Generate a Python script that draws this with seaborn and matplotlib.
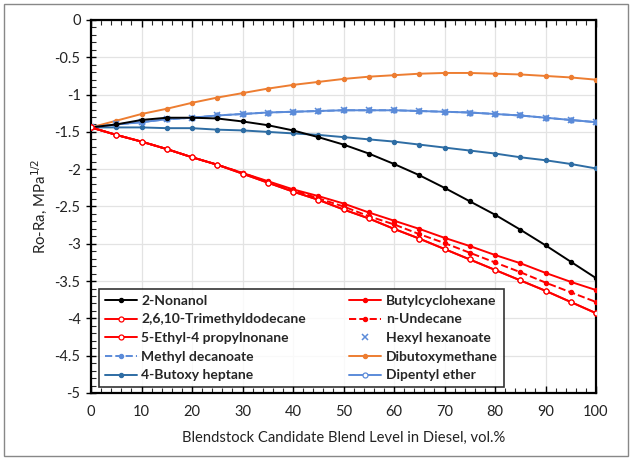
import numpy as np
import pandas as pd
import matplotlib
matplotlib.use("Agg")
import matplotlib.pyplot as plt
import seaborn as sns
from matplotlib.ticker import MultipleLocator
from matplotlib.patches import Rectangle
from matplotlib.lines import Line2D

sns.set_theme(style="white")
plt.rcParams['font.family'] = ['Lato', 'DejaVu Sans']

blend = [0, 5, 10, 15, 20, 25, 30, 35, 40, 45, 50, 55, 60, 65, 70, 75, 80, 85, 90, 95, 100]

nonanol = [-1.44, -1.40, -1.34, -1.31, -1.31, -1.32, -1.36, -1.41, -1.48, -1.57, -1.67,
           -1.79, -1.93, -2.08, -2.25, -2.43, -2.61, -2.81, -3.02, -3.24, -3.46]
butylcyclohexane = [-1.44, -1.54, -1.63, -1.73, -1.84, -1.94, -2.05, -2.16, -2.27, -2.36, -2.46,
                    -2.58, -2.69, -2.80, -2.92, -3.03, -3.15, -3.26, -3.39, -3.51, -3.62]
trimethyldodecane = [-1.44, -1.54, -1.63, -1.73, -1.84, -1.94, -2.06, -2.18, -2.30, -2.41, -2.54,
                     -2.66, -2.80, -2.93, -3.07, -3.21, -3.35, -3.49, -3.63, -3.78, -3.93]
undecane = [-1.44, -1.54, -1.63, -1.73, -1.84, -1.94, -2.05, -2.17, -2.28, -2.39, -2.50,
            -2.63, -2.74, -2.87, -2.99, -3.12, -3.25, -3.38, -3.52, -3.65, -3.78]
ethylpropylnonane = [-1.44, -1.54, -1.63, -1.73, -1.84, -1.94, -2.06, -2.18, -2.30, -2.41, -2.54,
                     -2.66, -2.80, -2.93, -3.07, -3.21, -3.35, -3.49, -3.63, -3.78, -3.93]
hexyl_hexanoate = [-1.44, -1.40, -1.37, -1.33, -1.31, -1.28, -1.26, -1.24, -1.23, -1.22, -1.21,
                   -1.21, -1.21, -1.22, -1.23, -1.24, -1.26, -1.28, -1.31, -1.34, -1.37]
methyl_decanoate = [-1.44, -1.40, -1.37, -1.33, -1.31, -1.28, -1.26, -1.24, -1.23, -1.22, -1.21,
                    -1.21, -1.21, -1.22, -1.23, -1.24, -1.26, -1.28, -1.31, -1.34, -1.37]
dibutoxymethane = [-1.44, -1.35, -1.26, -1.19, -1.11, -1.04, -0.98, -0.92, -0.87, -0.83, -0.79,
                   -0.76, -0.74, -0.72, -0.71, -0.71, -0.72, -0.73, -0.75, -0.77, -0.80]
butoxy_heptane = [-1.44, -1.44, -1.44, -1.45, -1.45, -1.47, -1.48, -1.50, -1.52, -1.54, -1.57,
                  -1.60, -1.63, -1.67, -1.71, -1.75, -1.79, -1.84, -1.88, -1.93, -1.99]
dipentyl_ether = [-1.44, -1.40, -1.37, -1.33, -1.31, -1.28, -1.26, -1.24, -1.23, -1.22, -1.21,
                  -1.21, -1.21, -1.22, -1.23, -1.24, -1.26, -1.28, -1.31, -1.34, -1.37]

RED = '#FF0000'
LBLUE = '#5B8BD9'
DBLUE = '#2E6DA4'
ORANGE = '#ED7D31'

# name, data, color, linestyle, marker, mfc
series = [
    ("2-Nonanol", nonanol, 'black', '-', 'o', 'black'),
    ("Butylcyclohexane", butylcyclohexane, RED, '-', 'o', RED),
    ("2,6,10-Trimethyldodecane", trimethyldodecane, RED, '-', 'o', 'white'),
    ("n-Undecane", undecane, RED, '--', 'o', RED),
    ("5-Ethyl-4 propylnonane", ethylpropylnonane, RED, '-', 'o', 'white'),
    ("Hexyl hexanoate", hexyl_hexanoate, LBLUE, 'none', 'x', LBLUE),
    ("Methyl decanoate", methyl_decanoate, LBLUE, '--', 'o', LBLUE),
    ("Dibutoxymethane", dibutoxymethane, ORANGE, '-', 'o', ORANGE),
    ("4-Butoxy heptane", butoxy_heptane, DBLUE, '-', 'o', DBLUE),
    ("Dipentyl ether", dipentyl_ether, LBLUE, '-', 'o', 'white'),
]

fig = plt.figure(figsize=(6.32, 4.59), dpi=100)
ax = fig.add_axes([91/632, 1-393/459, (596-91)/632, (393-20)/459])

draw_order = [8, 7, 9, 6, 5, 0, 1, 3, 2, 4]
handles = {}
for i in draw_order:
    name, data, color, ls, mk, mfc = series[i]
    df = pd.DataFrame({"x": blend, "y": data})
    ms = 4.5 if mk == 'x' else (3.6 if mfc == 'white' else 3.0)
    mew = 1.1 if mk == 'x' else 0.9
    sns.lineplot(data=df, x="x", y="y", ax=ax, color=color,
                 linestyle=ls if ls != 'none' else '-',
                 linewidth=0 if ls == 'none' else 1.4,
                 marker=mk, markersize=ms, markerfacecolor=mfc,
                 markeredgecolor=color, markeredgewidth=mew,
                 legend=False, zorder=3)
    handles[name] = Line2D([0], [0], color=color,
                           linestyle=ls if ls != 'none' else 'none',
                           linewidth=1.4, marker=mk, markersize=ms,
                           markerfacecolor=mfc, markeredgecolor=color,
                           markeredgewidth=mew)

ax.set_xlim(0, 100)
ax.set_ylim(-5, 0)
ax.xaxis.set_major_locator(MultipleLocator(10))
ax.xaxis.set_minor_locator(MultipleLocator(2))
ax.yaxis.set_minor_locator(MultipleLocator(0.1))
ax.set_yticks(np.arange(-5, 0.01, 0.5))
ax.set_yticklabels(['-5', '-4.5', '-4', '-3.5', '-3', '-2.5', '-2', '-1.5', '-1', '-0.5', '0'])

ax.grid(True, which='major', color='#E3E3E3', linewidth=0.9, zorder=0)
ax.set_axisbelow(True)
for sp in ax.spines.values():
    sp.set_visible(True)
    sp.set_color('black')
    sp.set_linewidth(1.6)

ax.tick_params(axis='both', which='major', direction='inout', length=7, width=1.0,
               labelsize=10.5, colors='black', pad=4,
               bottom=True, top=True, left=True, right=False)
ax.tick_params(axis='both', which='minor', direction='in', length=3.5, width=0.8,
               bottom=True, top=True, left=True, right=False)
ax.tick_params(axis='x', which='major', direction='in', length=5, pad=9)
for lab in ax.get_xticklabels() + ax.get_yticklabels():
    lab.set_color('#222222')

ax.set_xlabel("Blendstock Candidate Blend Level in Diesel, vol.%", fontsize=10.6, color='#222222', labelpad=8)
ax.set_ylabel("Ro-Ra, MPa$^{1/2}$", fontsize=10.8, color='#222222', labelpad=4)

col1 = ["2-Nonanol", "2,6,10-Trimethyldodecane", "5-Ethyl-4 propylnonane", "Methyl decanoate", "4-Butoxy heptane"]
col2 = ["Butylcyclohexane", "n-Undecane", "Hexyl hexanoate", "Dibutoxymethane", "Dipentyl ether"]
order = col1 + col2
leg = ax.legend([handles[n] for n in order], order, ncol=2,
                loc='lower left', bbox_to_anchor=(0.016, 0.016), borderaxespad=0,
                prop={'weight': 'bold', 'size': 10},
                frameon=True, fancybox=False, edgecolor='black',
                handlelength=2.3, handletextpad=0.35, columnspacing=3.1,
                labelspacing=0.48, borderpad=0.4)
leg.get_frame().set_linewidth(1.2)
leg.set_zorder(5)

fig.patches.append(Rectangle((4/632, 3/459), 624/632, 452/459, transform=fig.transFigure,
                             fill=False, edgecolor='#888888', linewidth=1.0))

fig.savefig("out.png", dpi=100)
